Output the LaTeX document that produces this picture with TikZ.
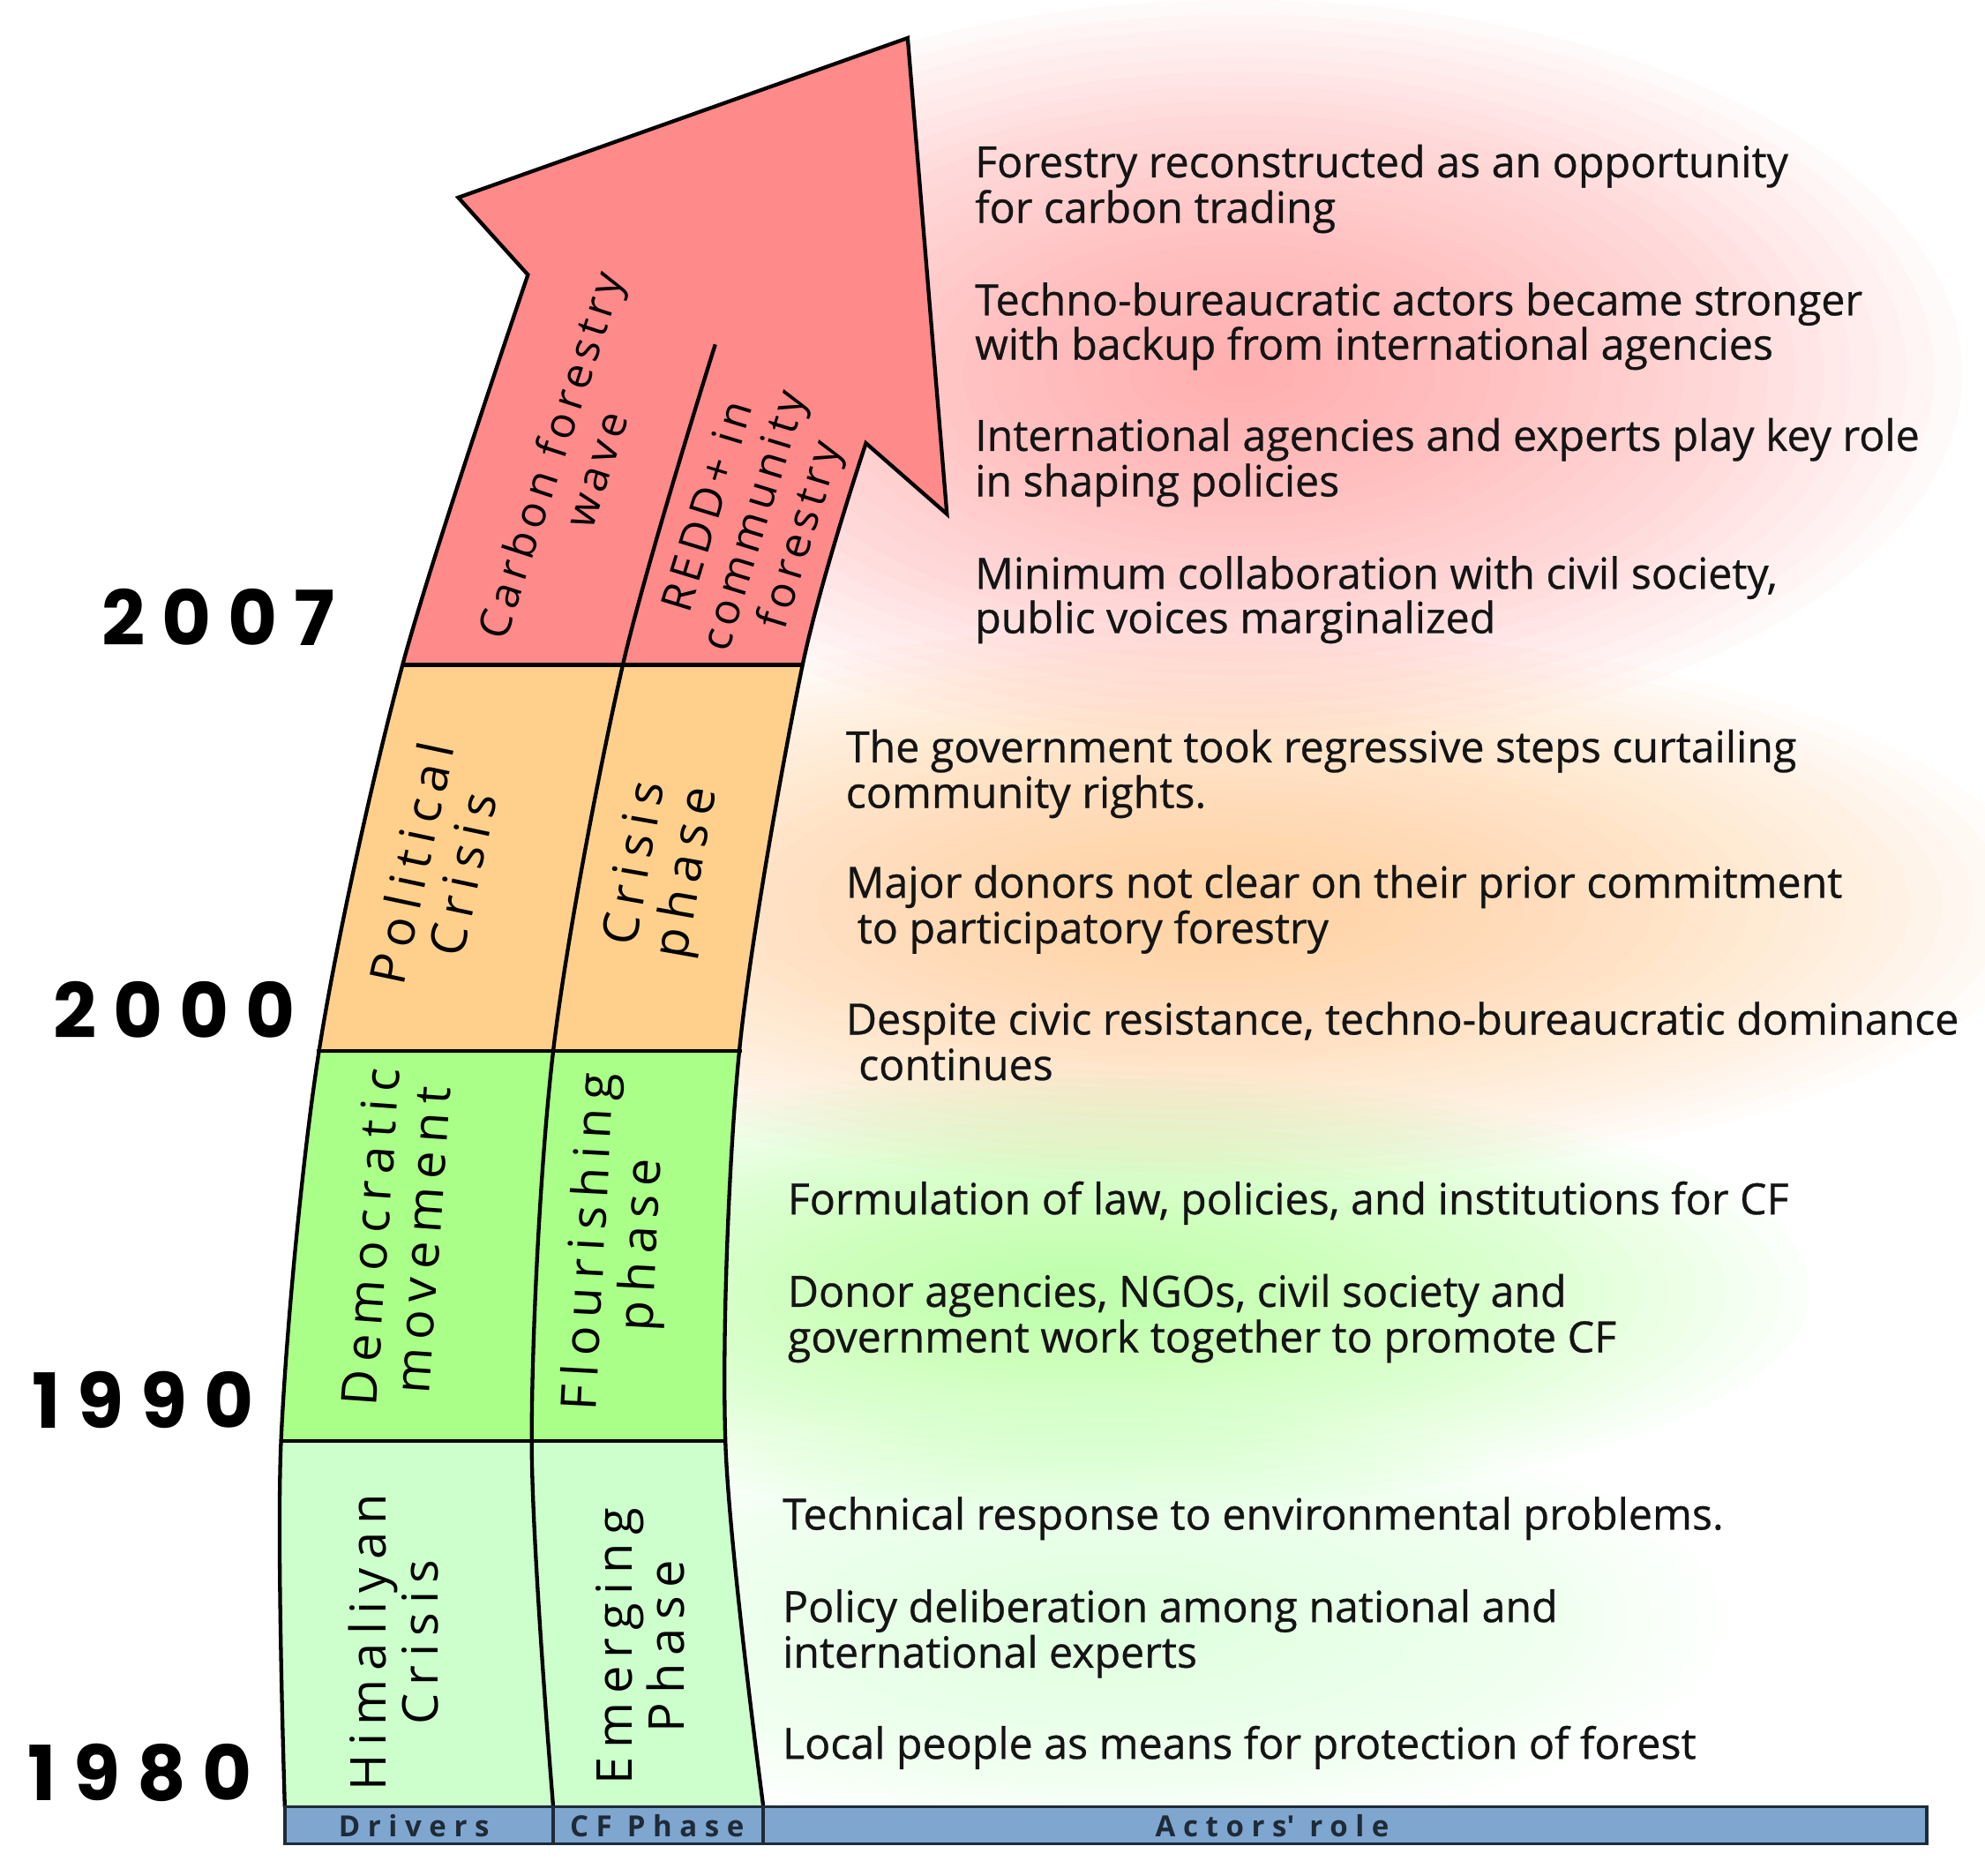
\documentclass[tikz,border=0pt]{standalone}
\usepackage{fontspec}
\setmainfont{Open Sans}
\newfontfamily\yearfont[LetterSpace=22]{Poppins}
\newfontfamily\cellfont[LetterSpace=17]{Open Sans}
\newfontfamily\cellsmfont[LetterSpace=12]{Open Sans}
\newfontfamily\barfont[LetterSpace=26]{Open Sans}
\newfontfamily\rtfont[FakeStretch=0.99,FakeBold=0.6]{Open Sans}
\definecolor{cred}{HTML}{FF8A8A}
\definecolor{corange}{HTML}{FFD08C}
\definecolor{cgreen}{HTML}{AAFF88}
\definecolor{clight}{HTML}{CCFFCC}
\definecolor{cbar}{HTML}{7FA6CF}
\definecolor{cbartext}{HTML}{1E2B38}
\definecolor{gpink}{HTML}{FF9090}
\definecolor{gorange}{HTML}{FFC47E}
\definecolor{ggreen}{HTML}{A8FF88}
\definecolor{glight}{HTML}{C8FFC8}
\newcommand\glowblob[6]{%
  \foreach \k in {1,...,26}{%
    \fill[#5, opacity=#6] (#1,#2) ellipse ({#3/26*(27-\k)} and {#4/26*(27-\k)});
  }}
\begin{document}
\begin{tikzpicture}[x=1pt,y=-1pt,
  rt/.style={anchor=base west, inner sep=0pt, font=\rtfont\fontsize{34}{36}\selectfont, text=black!92},
  cell/.style={align=center, inner sep=0pt, font=\cellfont\fontsize{39}{41}\selectfont},
  cellsm/.style={align=center, inner sep=0pt, font=\cellsmfont\fontsize{34}{38}\selectfont},
  yr/.style={anchor=base west, inner sep=0pt, font=\yearfont\bfseries\fontsize{60}{60}\selectfont},
  barlbl/.style={inner sep=0pt, font=\barfont\bfseries\fontsize{23}{23}\selectfont, text=cbartext},
  edge/.style={line width=3pt, line join=miter, draw=black}
]
\useasboundingbox (0,0) rectangle (1568,1481);
\fill[white] (0,0) rectangle (1568,1481);
% background glows
\glowblob{880}{1280}{480}{170}{glight}{0.025}
\glowblob{850}{1020}{580}{175}{ggreen}{0.038}
\glowblob{950}{715}{660}{220}{gorange}{0.04}
\glowblob{980}{295}{570}{295}{gpink}{0.04}
% coloured bands of the arrow
\foreach \col/\ya/\yb in {cred/0/525, corange/525/830, cgreen/830/1138, clight/1138/1430}{
  \begin{scope}
    \clip (0,\ya) rectangle (1568,\yb);
    \fill[\col] plot[smooth,tension=0.5] coordinates {(225,1427) (222,1138) (252,830) (318,525) (417,217)}
      -- (362,156) -- (717,30) -- (748,406) -- (684,350)
      -- plot[smooth,tension=0.5] coordinates {(684,350) (634,525) (584,830) (573,1138) (603,1427)} -- cycle;
  \end{scope}
}
% outline
\draw[edge] plot[smooth,tension=0.5] coordinates {(225,1427) (222,1138) (252,830) (318,525) (417,217)}
      -- (362,156) -- (717,30) -- (748,406) -- (684,350)
      -- plot[smooth,tension=0.5] coordinates {(684,350) (634,525) (584,830) (573,1138) (603,1427)};
\draw[edge] plot[smooth,tension=0.5] coordinates {(437,1427) (420,1138) (437,830) (492,525) (565,272)};
\coordinate (l1) at (222,1138); \coordinate (r1) at (573,1138);
\coordinate (l2) at (250,830);  \coordinate (r2) at (586,830);
\coordinate (l3) at (318,525);  \coordinate (r3) at (634,525);
\draw[edge] (l1) -- (r1);
\draw[edge] (l2) -- (r2);
\draw[edge] (l3) -- (r3);
% cell labels
\node[cellsm, rotate=72] (carbon) at (452,365) {Carbon forestry\\wave};
\node[cellsm, rotate=73] (redd) at (598,412) {REDD+ in\\community\\forestry};
\node[cell, rotate=78] (polit) at (345,686) {Political\\Crisis};
\node[cell, rotate=80] (crisph) at (524,686) {Crisis\\phase};
\node[cell, rotate=86] (democ) at (313,978) {Democratic\\movement};
\node[cell, rotate=87] (flour) at (488,982) {Flourishing\\phase};
\node[cell, rotate=90] (himal) at (311,1297) {Himaliyan\\Crisis};
\node[cell, rotate=90] (emerg) at (506,1300) {Emerging\\Phase};
% years
\node[yr] (y2007) at (80,510) {2007};
\node[yr] (y2000) at (42,820) {2000};
\node[yr] (y1990) at (25,1128) {1990};
\node[yr] (y1980) at (22,1422) {1980};
% bottom bar
\draw[fill=cbar, draw=cbartext, line width=2.5pt] (225,1427) rectangle (1522,1456);
\coordinate (d1a) at (437,1427); \coordinate (d1b) at (437,1456);
\coordinate (d2a) at (603,1427); \coordinate (d2b) at (603,1456);
\draw[draw=cbartext, line width=2.5pt] (d1a) -- (d1b);
\draw[draw=cbartext, line width=2.5pt] (d2a) -- (d2b);
\node[barlbl] (drv) at (327,1442) {Drivers};
\node[barlbl] (cfp) at (519,1442) {CF Phase};
\node[barlbl] (act) at (1005,1442) {Actors\textquotesingle{} role};
% actors' role texts
\node[rt] (a1) at (770,140) {Forestry reconstructed as an opportunity};
\node[rt] (a2) at (770,176) {for carbon trading};
\node[rt] (a3) at (770,249) {Techno-bureaucratic actors became stronger};
\node[rt] (a4) at (770,284) {with backup from international agencies};
\node[rt] (a5) at (770,356) {International agencies and experts play key role};
\node[rt] (a6) at (770,392) {in shaping policies};
\node[rt] (a7) at (770,465) {Minimum collaboration with civil society,};
\node[rt] (a8) at (770,500) {public voices marginalized};
\node[rt] (b1) at (668,602) {The government took regressive steps curtailing};
\node[rt] (b2) at (668,638) {community rights.};
\node[rt] (b3) at (668,709) {Major donors not clear on their prior commitment};
\node[rt] (b4) at (677,745) {to participatory forestry};
\node[rt] (b5) at (668,817) {Despite civic resistance, techno-bureaucratic dominance};
\node[rt] (b6) at (678,853) {continues};
\node[rt] (c1) at (622,959) {Formulation of law, policies, and institutions for CF};
\node[rt] (c2) at (622,1032) {Donor agencies, NGOs, civil society and};
\node[rt] (c3) at (622,1068) {government work together to promote CF};
\node[rt] (e1) at (618,1208) {Technical response to environmental problems.};
\node[rt] (e2) at (618,1281) {Policy deliberation among national and};
\node[rt] (e3) at (618,1317) {international experts};
\node[rt] (e4) at (618,1389) {Local people as means for protection of forest};
\end{tikzpicture}
\end{document}
